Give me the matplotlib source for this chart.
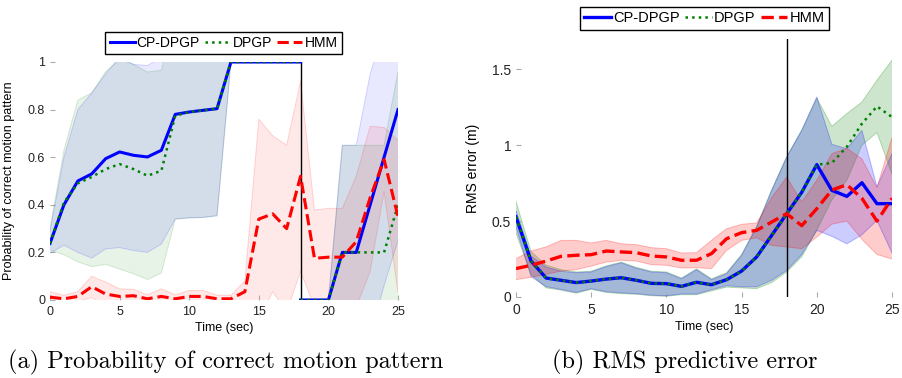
import numpy as np
import matplotlib
matplotlib.use("Agg")
import matplotlib.pyplot as plt

plt.rcParams['font.family'] = ['Liberation Sans', 'DejaVu Sans']

# ---------------- data: left panel (probability of correct motion pattern) ----------------
t_left = [0, 1, 2, 3, 4, 5, 6, 7, 8, 9, 10, 11, 12, 13, 14, 15, 16, 17, 18, 18, 19, 20, 21, 22, 23, 24, 25]

cp_left = [0.238, 0.40, 0.50, 0.53, 0.594, 0.622, 0.608, 0.601, 0.629, 0.78, 0.79, 0.797, 0.804,
           1, 1, 1, 1, 1, 1, 0, 0, 0, 0.2, 0.2, 0.4, 0.6, 0.8]
cp_left_up = [0.29, 0.60, 0.80, 0.87, 0.95, 1.02, 0.99, 0.985, 1.02, 1.22, 1.235, 1.245, 1.25,
              1, 1, 1, 1, 1, 1, 0, 0, 0, 0.65, 0.65, 0.95, 1.14, 1.35]
cp_left_lo = [0.196, 0.23, 0.20, 0.176, 0.215, 0.22, 0.208, 0.20, 0.235, 0.34, 0.345, 0.347, 0.354,
              1, 1, 1, 1, 1, 1, 0, 0, 0, -0.25, -0.25, -0.15, 0.06, 0.25]

dp_left = [0.238, 0.41, 0.49, 0.517, 0.55, 0.571, 0.55, 0.522, 0.543, 0.774, 0.79, 0.797, 0.804,
           1, 1, 1, 1, 1, 1, 0, 0, 0, 0.2, 0.2, 0.2, 0.2, 0.4]
dp_left_up = [0.30, 0.63, 0.84, 0.87, 0.96, 1.01, 0.99, 0.958, 0.965, 1.21, 1.235, 1.245, 1.25,
              1, 1, 1, 1, 1, 1, 0, 0, 0, 0.65, 0.65, 0.65, 0.65, 0.96]
dp_left_lo = [0.21, 0.19, 0.16, 0.14, 0.15, 0.13, 0.11, 0.086, 0.113, 0.34, 0.345, 0.347, 0.354,
              1, 1, 1, 1, 1, 1, 0, 0, 0, -0.25, -0.25, -0.25, -0.25, -0.16]

hmm_left = [0.012, 0.005, 0.015, 0.056, 0.025, 0.015, 0.018, 0.005, 0.015, 0.005, 0.015, 0.015, 0.005,
            0.005, 0.035, 0.34, 0.362, 0.30, 0.52, 0.52, 0.175, 0.18, 0.18, 0.245, 0.43, 0.59, 0.35]
hmm_left_up = [0.035, 0.02, 0.035, 0.10, 0.075, 0.047, 0.045, 0.022, 0.047, 0.022, 0.04, 0.04, 0.02,
               0.02, 0.08, 0.76, 0.69, 0.65, 0.92, 0.92, 0.378, 0.385, 0.385, 0.52, 0.73, 0.725, 0.67]
hmm_left_lo = [-0.01, -0.01, -0.005, 0.01, -0.025, -0.017, -0.01, -0.012, -0.017, -0.012, -0.01, -0.01, -0.01,
               -0.01, -0.01, -0.08, 0.035, -0.05, 0.12, 0.12, -0.03, -0.025, -0.025, -0.03, 0.12, 0.455, 0.03]

# ---------------- data: right panel (RMS predictive error) ----------------
t_right = list(range(26))

cp_right = [0.527, 0.237, 0.125, 0.11, 0.095, 0.105, 0.118, 0.127, 0.11, 0.09, 0.088, 0.07, 0.097,
            0.081, 0.114, 0.171, 0.264, 0.406, 0.549, 0.69, 0.872, 0.703, 0.663, 0.753, 0.615, 0.615]
cp_right_up = [0.57, 0.27, 0.197, 0.17, 0.16, 0.165, 0.20, 0.225, 0.19, 0.165, 0.16, 0.12, 0.18,
               0.114, 0.154, 0.275, 0.461, 0.703, 0.922, 1.098, 1.318, 1.006, 0.977, 1.098, 0.726, 0.945]
cp_right_lo = [0.46, 0.134, 0.068, 0.05, 0.03, 0.055, 0.035, 0.027, 0.022, 0.012, 0.008, 0.02, 0.02,
               0.048, 0.074, 0.067, 0.067, 0.11, 0.176, 0.28, 0.439, 0.40, 0.35, 0.41, 0.505, 0.29]

dp_right = [0.527, 0.237, 0.125, 0.11, 0.095, 0.105, 0.118, 0.127, 0.11, 0.09, 0.088, 0.07, 0.097,
            0.081, 0.114, 0.171, 0.264, 0.406, 0.549, 0.69, 0.872, 0.883, 0.99, 1.142, 1.256, 1.186]
dp_right_up = [0.63, 0.30, 0.21, 0.18, 0.165, 0.17, 0.205, 0.23, 0.195, 0.17, 0.165, 0.125, 0.185,
               0.12, 0.16, 0.28, 0.465, 0.705, 0.925, 1.10, 1.31, 1.125, 1.208, 1.285, 1.428, 1.56]
dp_right_lo = [0.42, 0.15, 0.06, 0.045, 0.025, 0.05, 0.03, 0.022, 0.018, 0.008, 0.005, 0.015, 0.015,
               0.04, 0.065, 0.06, 0.055, 0.095, 0.165, 0.265, 0.44, 0.64, 0.77, 1.0, 1.084, 0.81]

hmm_right = [0.187, 0.209, 0.237, 0.268, 0.275, 0.279, 0.303, 0.297, 0.292, 0.27, 0.264, 0.242, 0.242,
             0.286, 0.384, 0.424, 0.439, 0.494, 0.549, 0.47, 0.582, 0.705, 0.74, 0.65, 0.50, 0.65]
hmm_right_up = [0.253, 0.303, 0.33, 0.373, 0.373, 0.356, 0.373, 0.351, 0.345, 0.325, 0.318, 0.29, 0.292,
                0.373, 0.45, 0.479, 0.488, 0.655, 0.79, 0.626, 0.769, 0.944, 0.98, 0.91, 0.72, 1.05]
hmm_right_lo = [0.114, 0.13, 0.149, 0.171, 0.18, 0.204, 0.23, 0.242, 0.237, 0.213, 0.209, 0.191, 0.193,
                0.187, 0.307, 0.373, 0.39, 0.34, 0.33, 0.318, 0.395, 0.48, 0.50, 0.38, 0.28, 0.25]

labels = ['CP-DPGP', 'DPGP', 'HMM']
change_time = 18
x_ticks = [0, 5, 10, 15, 20, 25]
left_yticks = [0, 0.2, 0.4, 0.6, 0.8, 1]
left_yticklabels = ['0', '0.2', '0.4', '0.6', '0.8', '1']
right_yticks = [0, 0.5, 1, 1.5]
right_yticklabels = ['0', '0.5', '1', '1.5']

BLUE = '#0000ff'
GREEN = '#008000'
RED = '#ff0000'

fig = plt.figure(figsize=(9.02, 3.78), dpi=100)
W, H = 902, 378
axL = fig.add_axes([50 / W, 1 - 300 / H, 348 / W, 238 / H])
axR = fig.add_axes([516 / W, 1 - 297 / H, 376 / W, 258 / H])


def segments(t):
    """Split indices where time repeats (a jump in the mean at the change point)."""
    t = np.asarray(t, dtype=float)
    cuts = [0] + [i for i in range(1, len(t)) if t[i] == t[i - 1]] + [len(t)]
    return [slice(cuts[k], cuts[k + 1]) for k in range(len(cuts) - 1)]


def draw(ax, t, series, alpha, edge_alpha, lw_main):
    t = np.asarray(t, dtype=float)
    (cp, cpu, cpl), (dp, dpu, dpl), (hm, hmu, hml) = [[np.asarray(a, float) for a in s] for s in series]
    ax.fill_between(t, dpl, dpu, facecolor=GREEN, alpha=alpha, edgecolor='none', linewidth=0)
    ax.fill_between(t, cpl, cpu, facecolor=BLUE, alpha=alpha, edgecolor='none', linewidth=0)
    ax.fill_between(t, hml, hmu, facecolor=RED, alpha=alpha, edgecolor='none', linewidth=0)
    for arr, c, split in [(dpu, GREEN, True), (dpl, GREEN, True), (cpu, BLUE, True), (cpl, BLUE, True),
                          (hmu, RED, False), (hml, RED, False)]:
        segs = segments(t) if split else [slice(0, len(t))]
        for sl in segs:
            ax.plot(t[sl], arr[sl], color=c, alpha=edge_alpha, lw=0.7)
    ax.axvline(change_time, color='black', lw=1.0)
    handles = []
    for k, (arr, c, ls, lw) in enumerate([(cp, BLUE, '-', lw_main), (dp, GREEN, ':', 1.8),
                                          (hm, RED, '--', lw_main)]):
        segs = segments(t) if k < 2 else [slice(0, len(t))]
        for j, sl in enumerate(segs):
            ln, = ax.plot(t[sl], arr[sl], color=c, lw=lw, linestyle=ls)
            if j == 0:
                handles.append(ln)
    return handles


hL = draw(axL, t_left, [(cp_left, cp_left_up, cp_left_lo), (dp_left, dp_left_up, dp_left_lo),
                        (hmm_left, hmm_left_up, hmm_left_lo)], 0.09, 0.15, 2.2)
hR = draw(axR, t_right, [(cp_right, cp_right_up, cp_right_lo), (dp_right, dp_right_up, dp_right_lo),
                         (hmm_right, hmm_right_up, hmm_right_lo)], 0.20, 0.25, 2.4)

axL.set_xlim(0, 25)
axL.set_ylim(0, 1)
axR.set_xlim(0, 25)
axR.set_ylim(0, 1.7)

for ax in (axL, axR):
    for s in ax.spines.values():
        s.set_visible(False)
    ax.set_xticks(x_ticks)
    ax.tick_params(direction='in', length=3.5, width=0.8, color='#aaaaaa',
                   labelsize=9, labelcolor='#222222', pad=4.5)
    ax.tick_params(axis='y', pad=3.5)
    ax.set_xlabel('Time (sec)', fontsize=9, labelpad=3)

axL.set_yticks(left_yticks)
axL.set_yticklabels(left_yticklabels)
axR.set_yticks(right_yticks)
axR.set_yticklabels(right_yticklabels)
axR.tick_params(axis='both', labelsize=10)

axL.set_ylabel('Probability of correct motion pattern', fontsize=9)
axL.yaxis.set_label_coords(-0.1006, 0.5)
axR.set_ylabel('RMS error (m)', fontsize=10)
axR.yaxis.set_label_coords(-0.0957, 0.5)

legkw = dict(loc='center', ncol=3, frameon=True, fancybox=False, framealpha=1, edgecolor='black',
             borderpad=0.3, handletextpad=0.15, columnspacing=0.4, handlelength=1.8,
             bbox_transform=fig.transFigure, borderaxespad=0)
legL = axL.legend(hL, labels, bbox_to_anchor=(223.5 / W, 1 - 43 / H), fontsize=10, **legkw)
legR = axR.legend(hR, labels, bbox_to_anchor=(704.5 / W, 1 - 18.5 / H), fontsize=10.5, **legkw)
for lg in (legL, legR):
    lg.get_frame().set_linewidth(1.0)

fig.text(226 / W, 1 - 362 / H, '(a) Probability of correct motion pattern', family='cmr10',
         fontsize=17.5, ha='center', va='center')
fig.text(685 / W, 1 - 362 / H, '(b) RMS predictive error', family='cmr10',
         fontsize=17.5, ha='center', va='center')

fig.savefig('out.png', dpi=100)
